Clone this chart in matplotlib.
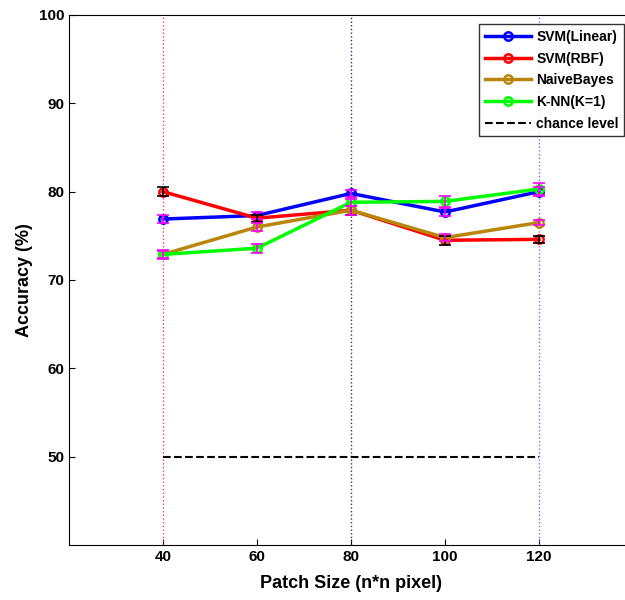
import numpy as np
import matplotlib
matplotlib.use('Agg')
import matplotlib.pyplot as plt

plt.rcParams['font.family'] = ['Liberation Sans', 'DejaVu Sans']
plt.rcParams['font.weight'] = 'bold'

patch = [40, 60, 80, 100, 120]

svm_lin = [76.9, 77.3, 79.8, 77.7, 80.0]
svm_rbf = [80.0, 77.0, 77.9, 74.5, 74.6]
naive = [72.9, 76.0, 77.9, 74.8, 76.5]
knn = [72.9, 73.6, 78.8, 78.9, 80.3]

svm_lin_err = [0.5, 0.4, 0.4, 0.5, 0.5]
svm_rbf_err = [0.5, 0.4, 0.5, 0.5, 0.4]
naive_err = [0.4, 0.4, 0.5, 0.4, 0.3]
knn_err = [0.5, 0.5, 0.4, 0.6, 0.7]

chance = 50

fig = plt.figure(figsize=(6.25, 6), dpi=100)
ax = fig.add_axes([69/625, 55/600, 564/625, 530/600])

# dotted guide lines
ax.axvline(40, color='#e0408a', ls=':', lw=1)
ax.axvline(80, color='#333355', ls=':', lw=1)
ax.axvline(120, color='#7070ff', ls=':', lw=1)

series = [
    (svm_lin, svm_lin_err, 'blue', 'SVM(Linear)', 'magenta'),
    (svm_rbf, svm_rbf_err, 'red', 'SVM(RBF)', 'black'),
    (naive, naive_err, '#b8860b', 'NaiveBayes', 'magenta'),
    (knn, knn_err, '#00ff00', 'K-NN(K=1)', 'magenta'),
]

for vals, err, col, lab, ecol in series:
    ax.plot(patch, vals, '-o', color=col, lw=2.5, ms=6, mfc='none',
            mew=1.8, label=lab)
for vals, err, col, lab, ecol in series:
    ax.errorbar(patch, vals, yerr=err, fmt='none', ecolor=ecol,
                elinewidth=1.2, capsize=4, capthick=1.2, zorder=5)

ax.plot([patch[0], patch[-1]], [chance, chance], '--', color='black',
        lw=1.5, label='chance level')

ax.set_xlim(20, 140)
ax.set_ylim(40, 100)
ax.set_xticks(patch)
ax.set_yticks([50, 60, 70, 80, 90, 100])
ax.tick_params(labelsize=11, direction='in', length=4)
for t in ax.get_xticklabels() + ax.get_yticklabels():
    t.set_fontweight('bold')

ax.set_xlabel('Patch Size (n*n pixel)', fontsize=13, fontweight='bold',
              labelpad=8)
ax.set_ylabel('Accuracy (%)', fontsize=13, fontweight='bold')

leg = ax.legend(loc='upper right', bbox_to_anchor=(0.992, 0.99),
                fontsize=10, fancybox=False, edgecolor='black',
                handlelength=3.3, borderaxespad=0.3, labelspacing=0.55,
                handletextpad=0.4)
leg.get_frame().set_linewidth(1)
for t in leg.get_texts():
    t.set_fontweight('bold')

fig.savefig('out.png', dpi=100)
